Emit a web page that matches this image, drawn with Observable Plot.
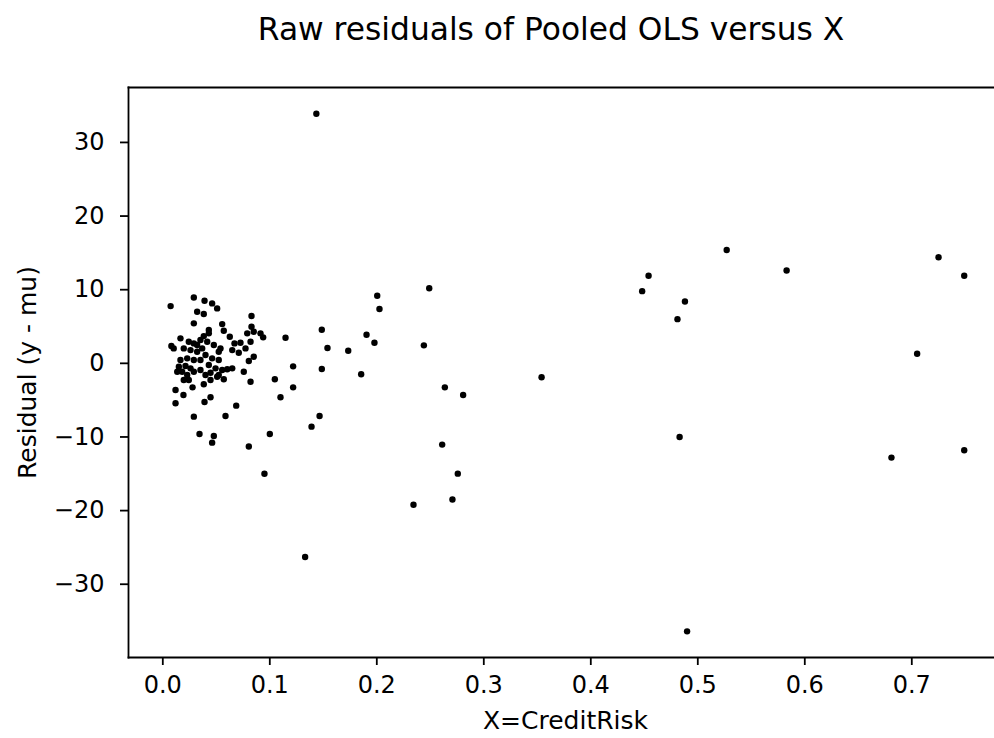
<!DOCTYPE html>
<html><head><meta charset="utf-8">
<script src="https://cdn.jsdelivr.net/npm/d3@7"></script>
<script src="https://cdn.jsdelivr.net/npm/@observablehq/plot@0.6"></script>
<style>
body{margin:0;background:#fff;font-family:"DejaVu Sans",sans-serif;}
#wrap{position:relative;width:994px;height:738px;overflow:hidden;background:#fff;}
#title{position:absolute;left:0;top:11px;width:1102px;text-align:center;font-size:31.3px;line-height:36px;color:#000;white-space:nowrap;}
#chart{position:absolute;left:0;top:60px;}
</style></head>
<body><div id="wrap"><div id="title"></div><div id="chart"></div></div>
<script>
const titleText = "Raw residuals of Pooled OLS versus X";
const xLabel = "X=CreditRisk";
const yLabel = "Residual (y - mu)";
const xTicks = [0, 0.1, 0.2, 0.3, 0.4, 0.5, 0.6, 0.7];
const yTicks = [-30, -20, -10, 0, 10, 20, 30];

// X = CreditRisk values
const creditRisk = [
  0.2004,0.2025,0.249,0.1486,0.1147,0.1539,0.1733,0.1904,0.1978,0.244,
  0.1218,0.1486,0.1854,0.1218,0.110,0.2636,0.2807,0.1465,0.139,0.2611,
  0.2757,0.2707,0.2343,
  0.0073,0.029,0.039,0.0461,0.0508,0.0321,0.0383,0.029,0.0829,0.0829,
  0.0555,0.1047,0.1,0.0804,0.0686,0.0586,0.029,0.0343,0.0477,0.0461,
  0.0119,0.0119,0.0193,0.0278,0.0383,0.039,0.0446,0.082,0.0757,0.0649,
  0.057,0.0508,0.008,0.0102,0.0165,0.043,0.057,0.0626,0.067,0.0726,
  0.0789,0.085,0.0913,0.0938,0.082,0.0773,0.071,0.0649,0.085,0.0804,
  0.0602,0.0555,0.0523,0.0446,0.043,0.0461,0.0523,0.0539,0.0523,0.0477,
  0.0415,0.0383,0.043,0.0352,0.0321,0.029,0.0243,0.0259,0.0196,0.0321,
  0.0368,0.0399,0.0352,0.029,0.0228,0.0165,0.015,0.0212,0.0259,0.0181,
  0.0135,0.0228,0.029,0.0196,0.0243,0.0352,0.0399,0.0493,0.0446,
  0.1435,0.133,0.095,0.354,0.448,0.454,0.481,0.483,0.488,0.490,
  0.527,0.583,0.681,0.705,0.725,0.749,0.749
];
// Residual (y - mu) values
const residual = [
  9.17,7.37,10.2,4.56,3.47,2.08,1.71,3.88,2.80,2.44,
  -0.41,-0.77,-1.49,-3.26,-4.60,-3.26,-4.30,-7.15,-8.6,-11.04,
  -14.98,-18.5,-19.2,
  7.77,8.95,8.5,8.14,7.46,7.0,6.69,5.43,6.42,4.97,
  5.33,-2.17,-9.6,-11.3,-5.75,-7.15,-7.24,-9.6,-9.87,-10.77,
  -3.62,-5.43,-4.3,-3.26,-2.85,-5.25,-4.6,-2.5,-1.14,-0.68,
  -2.17,-1.82,2.35,2.03,3.39,4.52,4.42,3.61,2.71,2.8,
  4.07,4.29,4.07,3.53,2.93,2.03,1.44,1.8,0.9,0.31,
  -0.81,-0.9,-1.59,-1.27,-0.23,0.68,0.45,2.03,1.58,2.48,
  2.93,3.7,4.07,3.16,2.48,2.71,2.93,1.8,2.03,1.58,
  2.03,1.13,0.45,0.45,0.68,0.45,-0.46,-0.37,-0.68,-1.14,
  -1.14,-1.59,-1.14,-2.27,-2.27,-0.91,-1.59,-0.68,-2.27,
  33.9,-26.3,-15.0,-1.9,9.8,11.9,6.0,-10.0,8.4,-36.4,
  15.4,12.6,-12.8,1.3,14.4,11.9,-11.8
];

const data = creditRisk.map((x, i) => ({x, y: residual[i]}));
document.getElementById("title").textContent = titleText;

const minus = d => d < 0 ? "\u2212" + Math.abs(d) : String(d);

const chart = Plot.plot({
  width: 994,
  height: 678,
  marginLeft: 128,
  marginRight: 0,
  marginTop: 27,
  marginBottom: 81,
  style: {fontFamily: "DejaVu Sans", fontSize: "24px", color: "#000", background: "#fff", overflow: "visible"},
  x: {domain: [-0.03206, 0.7773]},
  y: {domain: [-39.95, 37.46]},
  marks: [
    Plot.frame({anchor: "top", stroke: "#000", strokeWidth: 1.8, strokeOpacity: 1}),
    Plot.frame({anchor: "left", stroke: "#000", strokeWidth: 1.8, strokeOpacity: 1}),
    Plot.frame({anchor: "bottom", stroke: "#000", strokeWidth: 1.8, strokeOpacity: 1}),
    Plot.dot(data, {x: "x", y: "y", r: 3.2, fill: "#000", stroke: null}),
    Plot.axisX({ticks: xTicks, tickFormat: d3.format(".1f"), tickSize: 8, tickPadding: 10, strokeWidth: 1.8, strokeOpacity: 1, label: null, fontSize: 24}),
    Plot.axisY({ticks: yTicks, tickFormat: minus, tickSize: 8, tickPadding: 16, strokeWidth: 1.8, strokeOpacity: 1, label: null, fontSize: 24}),
    Plot.text([xLabel], {frameAnchor: "bottom", textAnchor: "middle", lineAnchor: "middle", dx: 4, dy: 63, fontSize: 25, fill: "#000"}),
    Plot.text([yLabel], {frameAnchor: "left", textAnchor: "middle", lineAnchor: "middle", rotate: -90, dx: -101, fontSize: 25, fill: "#000"})
  ]
});
document.getElementById("chart").appendChild(chart);
</script>
</body></html>
